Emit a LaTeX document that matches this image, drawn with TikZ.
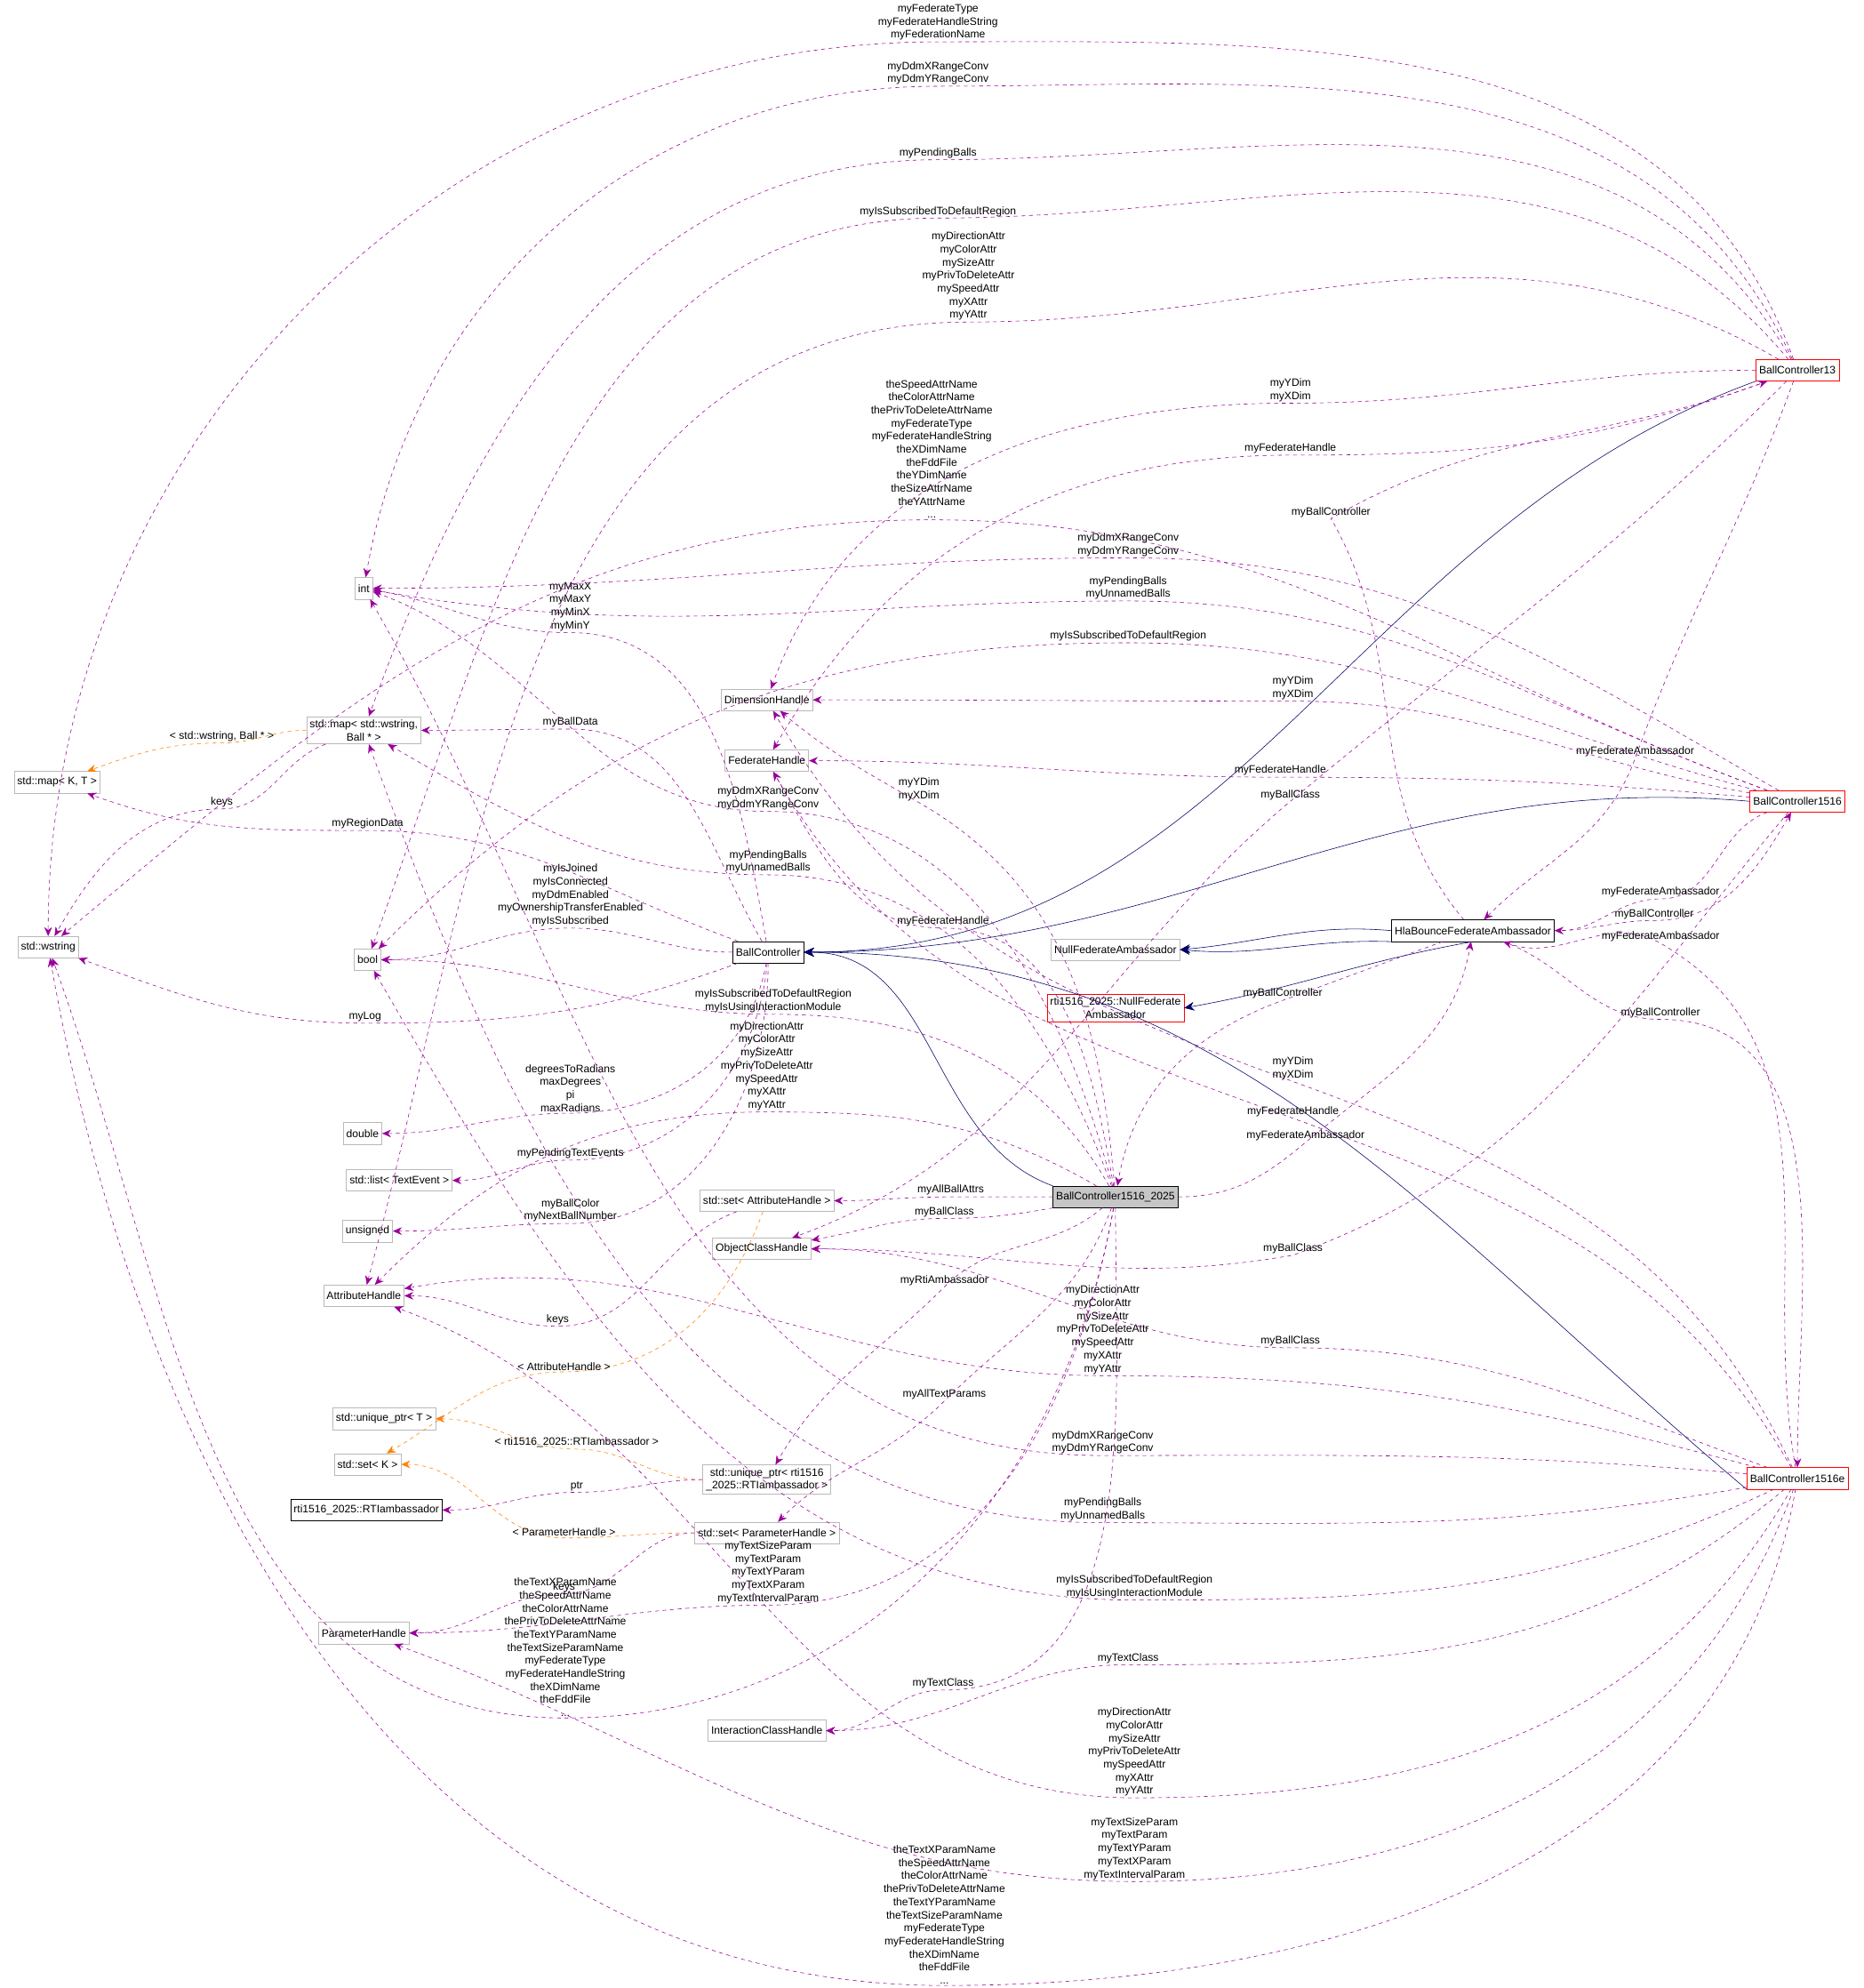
\documentclass[tikz,border=0pt]{standalone}
\usepackage{fontspec}
\setmainfont{Liberation Sans}
\usetikzlibrary{arrows.meta}
\tikzset{
    x=1pt, y=-1pt,
    cls/.style={draw=gray!55, fill=white, inner sep=2.5pt, minimum height=17pt, align=center, font=\fontsize{8.5}{10.3}\selectfont}, % plain classes
    redcls/.style={cls, draw=red}, % incomplete classes
    main/.style={cls, draw=black}, % documented classes
    use/.style={draw=violet!80!magenta, dashed, -{Stealth[length=7pt,width=6pt]}}, % members
    tmpl/.style={draw=orange, dashed, -{Stealth[length=7pt,width=6pt]}}, % templates
    inh/.style={draw=blue!40!black, -{Stealth[length=8pt,width=7pt]}}, % inheritance
    lbl/.style={align=center, inner sep=1pt, font=\fontsize{8.5}{10.3}\selectfont},
    h/.style={out=180,in=0}, % plain right-to-left bend
}
% member edge: source, target, label point, first bend, second bend, text
\newcommand{\member}[7][use]{%
    \draw[#1] (#2) to[#5] (#4) to[#6] (#3);
    \node[lbl, anchor=south] at (#4) {#7};
}
\begin{document}
\begin{tikzpicture}
    \useasboundingbox[fill=white] (0,0) rectangle (1470,1568);
    % left column
    \node[cls] (int) at (287,464) {int};
    \node[cls] (wmap) at (287,576) {std::map\textless{} std::wstring,\\Ball * \textgreater};
    \node[cls] (kmap) at (45,617) {std::map\textless{} K, T \textgreater};
    \node[cls] (wstr) at (38,747) {std::wstring};
    \node[cls] (bool) at (290,757) {bool};
    \node[cls] (dbl) at (286,894) {double};
    \node[cls] (tlist) at (315,931) {std::list\textless{} TextEvent \textgreater};
    \node[cls] (uns) at (290,971) {unsigned};
    \node[cls] (attr) at (287,1022) {AttributeHandle};
    \node[cls] (uptr) at (303,1119) {std::unique\_ptr\textless{} T \textgreater};
    \node[cls] (kset) at (290,1155) {std::set\textless{} K \textgreater};
    \node[main] (rtiamb) at (289,1191) {rti1516\_2025::RTIambassador};
    \node[cls] (param) at (287,1288) {ParameterHandle};
    % middle column
    \node[cls] (dim) at (605,552) {DimensionHandle};
    \node[cls] (fed) at (605,600) {FederateHandle};
    \node[main] (bc) at (606,751) {BallController};
    \node[cls] (aset) at (605,947) {std::set\textless{} AttributeHandle \textgreater};
    \node[cls] (ocls) at (601,985) {ObjectClassHandle};
    \node[cls] (rptr) at (605,1167) {std::unique\_ptr\textless{} rti1516\\\_2025::RTIambassador \textgreater};
    \node[cls] (pset) at (605,1209) {std::set\textless{} ParameterHandle \textgreater};
    \node[cls] (icls) at (605,1365) {InteractionClassHandle};
    % right side
    \node[main, fill=gray!45] (bc2025) at (880,944) {BallController1516\_2025};
    \node[cls] (nullfa) at (880,749) {NullFederateAmbassador};
    \node[redcls] (rtinull) at (880,795) {rti1516\_2025::NullFederate\\Ambassador};
    \node[main] (hla) at (1162,734) {HlaBounceFederateAmbassador};
    \node[redcls] (bc13) at (1418,292) {BallController13};
    \node[redcls] (bc1516) at (1418,632) {BallController1516};
    \node[redcls] (bc1516e) at (1418,1166) {BallController1516e};

    % inheritance
    \draw[inh] (bc13.south west) to[out=200,in=0] (bc.east);
    \draw[inh] (bc1516.west) to[out=175,in=0] (bc.east);
    \draw[inh] (bc2025.north west) to[out=160,in=0] (bc.east);
    \draw[inh] (bc1516e.south west) to[out=140,in=0] (bc.east);
    \draw[inh] (hla.west) to[out=175,in=5] (nullfa.east);
    \draw[inh] (hla.south west) to[out=178,in=-5] (nullfa.east);
    \draw[inh] (hla.south) to[out=190,in=10] (rtinull.east);

    % templates
    \member[tmpl]{wmap}{kmap}{175,586}{h}{out=180,in=20}{\textless{} std::wstring, Ball * \textgreater}
    \member[tmpl]{aset}{kset}{445,1082}{out=250,in=0}{out=180,in=30}{\textless{} AttributeHandle \textgreater}
    \member[tmpl]{rptr}{uptr}{455,1143}{h}{h}{\textless{} rti1516\_2025::RTIambassador \textgreater}
    \member[tmpl]{pset}{kset}{445,1213}{h}{h}{\textless{} ParameterHandle \textgreater}
    \member{wmap}{wstr}{175,638}{out=200,in=0}{out=180,in=60}{keys}
    \member{aset}{attr}{440,1046}{out=200,in=0}{h}{keys}
    \member{rptr}{rtiamb}{455,1177}{h}{h}{ptr}
    \member{pset}{param}{445,1257}{h}{h}{keys}

    % BallController
    \member{bc}{int}{450,499}{out=100,in=0}{out=180,in=-10}{myMaxX\\myMaxY\\myMinX\\myMinY}
    \member{bc}{wmap}{450,575}{out=120,in=0}{h}{myBallData}
    \member{bc}{kmap}{290,655}{out=160,in=0}{out=180,in=-20}{myRegionData}
    \member{bc}{bool}{450,732}{h}{h}{myIsJoined\\myIsConnected\\myDdmEnabled\\myOwnershipTransferEnabled\\myIsSubscribed}
    \member{bc}{wstr}{288,807}{out=200,in=0}{out=180,in=-20}{myLog}
    \member{bc}{dbl}{450,878}{out=260,in=0}{h}{degreesToRadians\\maxDegrees\\pi\\maxRadians}
    \member{bc}{tlist}{450,915}{out=265,in=0}{h}{myPendingTextEvents}
    \member{bc}{uns}{450,965}{out=270,in=0}{h}{myBallColor\\myNextBallNumber}

    % BallController13
    \member{bc13}{wstr}{740,33}{out=110,in=0}{out=180,in=90}{myFederateType\\myFederateHandleString\\myFederationName}
    \member{bc13}{int}{740,68}{out=115,in=0}{out=180,in=80}{myDdmXRangeConv\\myDdmYRangeConv}
    \member{bc13}{wmap}{740,126}{out=120,in=0}{out=180,in=70}{myPendingBalls}
    \member{bc13}{bool}{740,172}{out=130,in=0}{out=180,in=70}{myIsSubscribedToDefaultRegion}
    \member{bc13}{attr}{764,254}{out=150,in=0}{out=180,in=75}{myDirectionAttr\\myColorAttr\\mySizeAttr\\myPrivToDeleteAttr\\mySpeedAttr\\myXAttr\\myYAttr}
    \member{bc13}{dim}{1018,318}{h}{out=180,in=70}{myYDim\\myXDim}
    \member{bc13}{fed}{1018,359}{out=200,in=0}{out=180,in=60}{myFederateHandle}
    \member{bc13}{ocls}{1018,632}{out=225,in=40}{out=220,in=20}{myBallClass}
    \member{bc13}{hla}{1290,598}{out=250,in=70}{out=250,in=45}{myFederateAmbassador}
    \member{hla}{bc13}{1050,409}{out=130,in=-60}{out=30,in=200}{myBallController}

    % BallController1516
    \member{bc1516}{wstr}{735,410}{out=160,in=0}{out=180,in=40}{theSpeedAttrName\\theColorAttrName\\thePrivToDeleteAttrName\\myFederateType\\myFederateHandleString\\theXDimName\\theFddFile\\theYDimName\\theSizeAttrName\\theYAttrName\\...}
    \member{bc1516}{int}{890,440}{out=150,in=0}{h}{myDdmXRangeConv\\myDdmYRangeConv}
    \member{bc1516}{int}{890,474}{out=160,in=0}{out=180,in=-10}{myPendingBalls\\myUnnamedBalls}
    \member{bc1516}{bool}{890,507}{out=165,in=0}{out=180,in=45}{myIsSubscribedToDefaultRegion}
    \member{bc1516}{dim}{1020,553}{out=170,in=0}{h}{myYDim\\myXDim}
    \member{bc1516}{fed}{1010,613}{out=175,in=0}{h}{myFederateHandle}
    \member{bc1516}{ocls}{1020,990}{out=230,in=20}{out=190,in=0}{myBallClass}
    \member{bc1516}{hla}{1310,709}{out=200,in=0}{h}{myFederateAmbassador}
    \member{hla}{bc1516}{1305,726}{out=0,in=180}{out=0,in=240}{myBallController}

    % BallController1516e
    \member{bc1516e}{wstr}{745,1566}{out=260,in=0}{out=180,in=-80}{theTextXParamName\\theSpeedAttrName\\theColorAttrName\\thePrivToDeleteAttrName\\theTextYParamName\\theTextSizeParamName\\myFederateType\\myFederateHandleString\\theXDimName\\theFddFile\\...}
    \member{bc1516e}{param}{895,1484}{out=250,in=0}{out=180,in=-20}{myTextSizeParam\\myTextParam\\myTextYParam\\myTextXParam\\myTextIntervalParam}
    \member{bc1516e}{attr}{895,1418}{out=240,in=0}{out=180,in=-20}{myDirectionAttr\\myColorAttr\\mySizeAttr\\myPrivToDeleteAttr\\mySpeedAttr\\myXAttr\\myYAttr}
    \member{bc1516e}{icls}{890,1313}{out=220,in=0}{h}{myTextClass}
    \member{bc1516e}{bool}{895,1262}{out=205,in=0}{out=180,in=-60}{myIsSubscribedToDefaultRegion\\myIsUsingInteractionModule}
    \member{bc1516e}{wmap}{870,1201}{out=190,in=0}{out=180,in=-70}{myPendingBalls\\myUnnamedBalls}
    \member{bc1516e}{int}{870,1148}{out=175,in=0}{out=180,in=-60}{myDdmXRangeConv\\myDdmYRangeConv}
    \member{bc1516e}{attr}{870,1085}{out=165,in=0}{out=180,in=10}{myDirectionAttr\\myColorAttr\\mySizeAttr\\myPrivToDeleteAttr\\mySpeedAttr\\myXAttr\\myYAttr}
    \member{bc1516e}{ocls}{1018,1063}{out=160,in=0}{h}{myBallClass}
    \member{bc1516e}{fed}{1020,882}{out=120,in=-20}{out=160,in=-60}{myFederateHandle}
    \member{bc1516e}{dim}{1020,853}{out=115,in=-20}{out=160,in=-60}{myYDim\\myXDim}
    \member{bc1516e}{hla}{1310,744}{out=100,in=-30}{out=150,in=-20}{myFederateAmbassador}
    \member{hla}{bc1516e}{1310,804}{out=-20,in=180}{out=0,in=90}{myBallController}

    % BallController1516_2025
    \member{bc2025}{aset}{750,944}{h}{h}{myAllBallAttrs}
    \member{bc2025}{ocls}{745,961}{out=190,in=0}{out=180,in=10}{myBallClass}
    \member{bc2025}{attr}{605,877}{out=150,in=0}{out=180,in=45}{myDirectionAttr\\myColorAttr\\mySizeAttr\\myPrivToDeleteAttr\\mySpeedAttr\\myXAttr\\myYAttr}
    \member{bc2025}{rptr}{745,1015}{out=220,in=45}{out=225,in=60}{myRtiAmbassador}
    \member{bc2025}{pset}{745,1105}{out=250,in=45}{out=225,in=45}{myAllTextParams}
    \member{bc2025}{param}{606,1266}{out=260,in=0}{h}{myTextSizeParam\\myTextParam\\myTextYParam\\myTextXParam\\myTextIntervalParam}
    \member{bc2025}{icls}{744,1333}{out=270,in=0}{h}{myTextClass}
    \member{bc2025}{wstr}{446,1355}{out=260,in=0}{out=180,in=-70}{theTextXParamName\\theSpeedAttrName\\theColorAttrName\\thePrivToDeleteAttrName\\theTextYParamName\\theTextSizeParamName\\myFederateType\\myFederateHandleString\\theXDimName\\theFddFile\\...}
    \member{bc2025}{bool}{610,800}{out=120,in=0}{h}{myIsSubscribedToDefaultRegion\\myIsUsingInteractionModule}
    \member{bc2025}{wmap}{606,690}{out=110,in=0}{out=180,in=-30}{myPendingBalls\\myUnnamedBalls}
    \member{bc2025}{int}{606,640}{out=105,in=0}{out=180,in=-20}{myDdmXRangeConv\\myDdmYRangeConv}
    \member{bc2025}{fed}{744,732}{out=100,in=0}{out=180,in=-60}{myFederateHandle}
    \member{bc2025}{dim}{725,633}{out=95,in=-30}{out=150,in=-40}{myYDim\\myXDim}
    \member{bc2025}{hla}{1030,901}{out=0,in=220}{out=40,in=260}{myFederateAmbassador}
    \member{hla}{bc2025}{1012,789}{out=200,in=20}{out=200,in=80}{myBallController}
\end{tikzpicture}
\end{document}
